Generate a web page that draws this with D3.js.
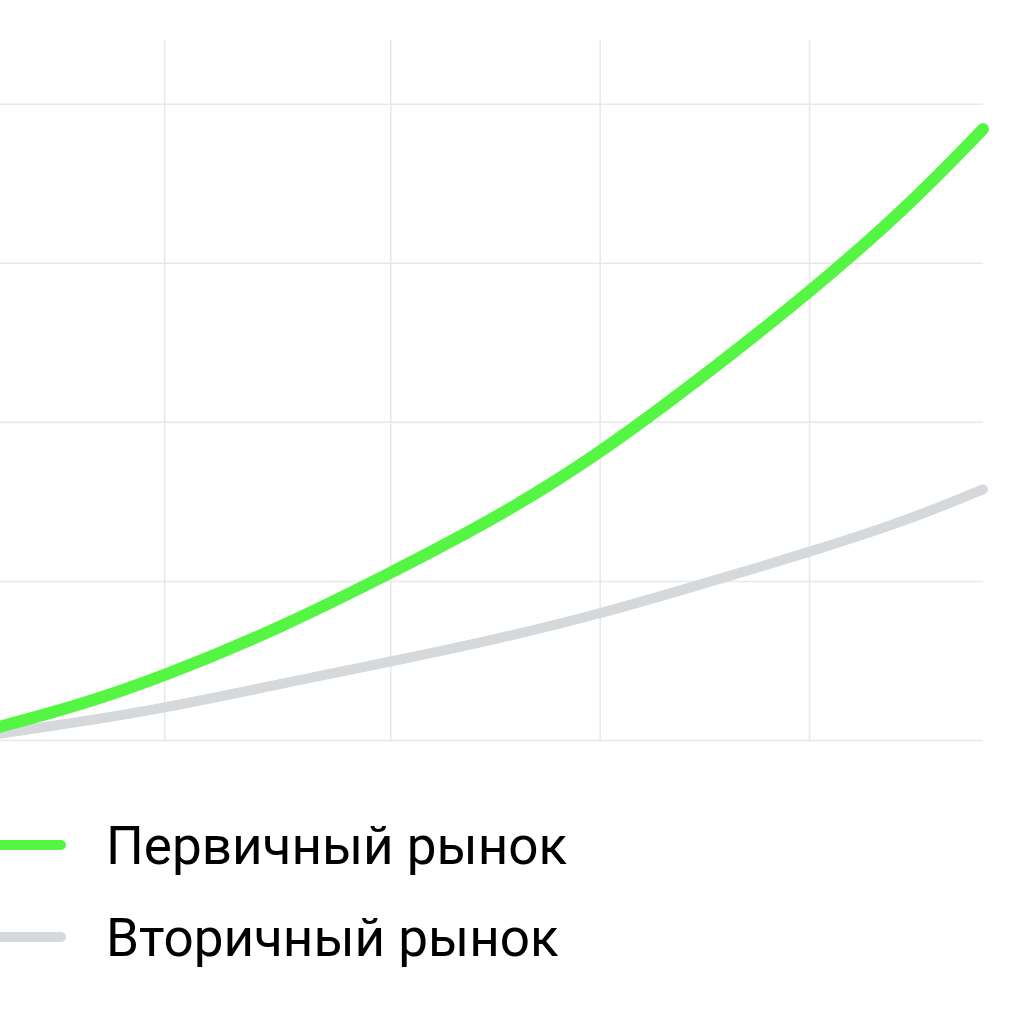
<!DOCTYPE html>
<html>
<head>
<meta charset="utf-8">
<script src="https://cdn.jsdelivr.net/npm/d3@7"></script>
<style>
  body { margin: 0; background: #fff; }
  svg { display: block; }
  .grid line { stroke: #e7e8ea; stroke-width: 1.5; }
  .grid .domain { display: none; }
</style>
</head>
<body>
<svg id="chart"></svg>
<script>
// x positions (share of the period) and values
const xValues = [0, 8, 17, 28.5, 39.7, 51, 61, 71, 82.3, 92.5, 100];
const primary = [2.1, 5.4, 10.2, 17.6, 26.2, 35.3, 45, 56.5, 70.2, 84, 96];
const secondary = [1.0, 2.8, 5.1, 8.8, 12.3, 16.0, 19.8, 24.3, 29.5, 34.6, 39.4];
const xTicks = [16.7, 39.7, 61, 82.3];
const yTicks = [0, 25, 50, 75, 100];
const seriesNames = ["Первичный рынок", "Вторичный рынок"];
const seriesColors = ["#55f544", "#d6d9dc"];

const config = {
  width: 1024,
  height: 1024,
  margin: { top: 40, right: 41, bottom: 284, left: 0 }
};

const innerW = config.width - config.margin.left - config.margin.right;
const innerH = config.height - config.margin.top - config.margin.bottom;

const svg = d3.select('#chart')
  .attr('width', config.width)
  .attr('height', config.height);

svg.append('rect')
  .attr('width', config.width)
  .attr('height', config.height)
  .attr('fill', '#fff');

const chart = svg.append('g')
  .attr('transform', `translate(${config.margin.left},${config.margin.top})`);

const xScale = d3.scaleLinear().domain([0, 100]).range([0, innerW]);
const yScale = d3.scaleLinear().domain([0, 110]).range([innerH, 0]);

// vertical grid
chart.append('g')
  .attr('class', 'grid')
  .attr('transform', `translate(0,${innerH})`)
  .call(d3.axisBottom(xScale).tickValues(xTicks).tickSize(-innerH).tickFormat(''));

// horizontal grid
chart.append('g')
  .attr('class', 'grid')
  .call(d3.axisLeft(yScale).tickValues(yTicks).tickSize(-innerW).tickFormat(''));

const line = d3.line()
  .x((d, i) => xScale(xValues[i]))
  .y(d => yScale(d))
  .curve(d3.curveBasis);

const series = [secondary, primary];
const widths = [10, 12];
const colorIdx = [1, 0];

series.forEach((s, k) => {
  chart.append('path')
    .datum(s)
    .attr('fill', 'none')
    .attr('stroke', seriesColors[colorIdx[k]])
    .attr('stroke-width', widths[k])
    .attr('stroke-linecap', 'round')
    .attr('stroke-linejoin', 'round')
    .attr('d', line);
});

// legend
const legend = svg.append('g')
  .attr('transform', 'translate(0,845)');

const item = legend.selectAll('g')
  .data(seriesNames)
  .join('g')
  .attr('transform', (d, i) => `translate(0,${i * 92})`);

item.append('line')
  .attr('x1', -10)
  .attr('x2', 61)
  .attr('stroke', (d, i) => seriesColors[i])
  .attr('stroke-width', 10)
  .attr('stroke-linecap', 'round');

item.append('text')
  .attr('x', 106)
  .attr('y', 19)
  .attr('font-family', 'Roboto, sans-serif')
  .attr('font-size', 53)
  .attr('fill', '#000')
  .text(d => d);
</script>
</body>
</html>
